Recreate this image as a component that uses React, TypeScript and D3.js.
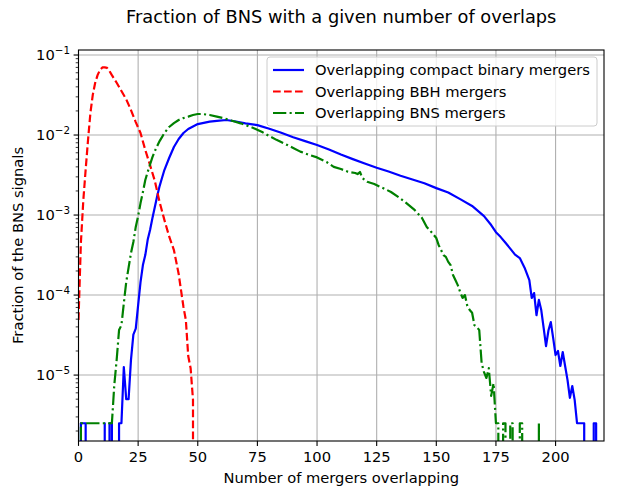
import React from "react";
import * as d3 from "d3";

// smallest non-zero fraction (one count)
const L = 2.5e-6;

// Overlapping BBH mergers (number of overlaps, fraction)
const bbhPoints: [number, number][] = [
  [0, 4.9e-5], [1, 4.5e-4], [2, 1.5e-3], [3, 3.7e-3], [4, 8.7e-3], [5, 1.9e-2],
  [6, 3.2e-2], [7, 4.5e-2], [8, 5.6e-2], [9, 6.5e-2], [10, 7.0e-2], [11, 7.0e-2],
  [12, 6.9e-2], [13, 6.3e-2], [14, 5.6e-2], [16, 4.5e-2], [18, 3.55e-2], [20, 2.8e-2],
  [22, 2.05e-2], [24, 1.45e-2], [26, 1.06e-2], [28, 6.5e-3], [30, 4.2e-3], [32, 2.66e-3],
  [34, 1.45e-3], [36, 8.7e-4], [38, 5.4e-4], [40, 3.65e-4], [42, 1.83e-4], [44, 7.1e-5],
  [45, 4.9e-5], [46, 1.73e-5], [47, 1.22e-5], [48, 4.9e-6], [49, 0], [220, 0],
];

// Overlapping BNS mergers
const bnsPoints: [number, number][] = [
  [0, 0], [1, L], [14, L], [15, 7.5e-6], [16, 1.55e-5], [17, 3.65e-5], [18, 4.2e-5],
  [19, 7.9e-5], [20, 1.45e-4], [21, 2.2e-4], [22, 3.35e-4], [23, 4.6e-4], [24, 7.1e-4],
  [25, 9.7e-4], [26, 1.41e-3], [27, 1.94e-3], [28, 2.74e-3], [29, 3.45e-3], [30, 4.3e-3],
  [31, 5.3e-3], [32, 6.3e-3], [33, 7.3e-3], [34, 8.4e-3], [35, 9.4e-3], [36, 1.06e-2],
  [38, 1.26e-2], [40, 1.41e-2], [42, 1.54e-2], [44, 1.63e-2], [46, 1.7e-2], [48, 1.78e-2],
  [50, 1.83e-2], [52, 1.83e-2], [55, 1.78e-2], [58, 1.7e-2], [61, 1.62e-2], [64, 1.52e-2],
  [68, 1.4e-2], [71, 1.3e-2], [74, 1.2e-2], [77, 1.09e-2], [80, 9.7e-3], [83, 8.7e-3],
  [86, 7.9e-3], [90, 6.9e-3], [93, 6.2e-3], [97, 5.6e-3], [100, 5.25e-3], [104, 4.6e-3],
  [107, 4.0e-3], [110, 3.76e-3], [113, 3.47e-3], [116, 3.35e-3], [117, 3.25e-3], [118, 3.45e-3],
  [119, 2.9e-3], [121, 2.61e-3], [124, 2.44e-3], [128, 2.15e-3], [131, 1.94e-3], [134, 1.69e-3],
  [137, 1.45e-3], [141, 1.15e-3], [144, 9.2e-4], [146, 7.1e-4], [148, 6.1e-4], [149, 5.6e-4],
  [150, 5.16e-4], [151, 4.2e-4], [152, 3.65e-4], [153, 3.16e-4], [154, 3.0e-4], [155, 2.6e-4],
  [156, 2.37e-4], [157, 1.78e-4], [158, 1.54e-4], [159, 1.33e-4], [160, 1.09e-4], [161, 9.2e-5],
  [162, 1.0e-4], [163, 7.3e-5], [164, 6.5e-5], [165, 6.0e-5], [166, 4.2e-5], [167, 4.0e-5],
  [168, 3.65e-5], [169, 1.41e-5], [170, 1.09e-5], [171, 9.2e-6], [172, 1.22e-5], [173, 5.5e-6],
  [174, 7.9e-6], [175, L], [176, L], [177, 0], [178, L], [179, L], [180, 0], [181, L],
  [182, L], [183, 0], [184, 0], [185, L], [186, L], [187, 0], [192, 0], [193, L], [194, 0],
  [220, 0],
];

// Overlapping compact binary mergers (all)
const allPoints: [number, number][] = [
  [0, 0], [1, L], [2, L], [3, L], [4, 0], [10, 0], [11, L], [12, 0], [13, L], [14, L],
  [15, 0], [16, 0], [17, L], [18, L], [19, 1.26e-5], [20, 5e-6], [21, 5e-6], [22, 1.55e-5],
  [23, 3.2e-5], [24, 3.8e-5], [25, 7.5e-5], [26, 1.45e-4], [27, 2.37e-4], [28, 3.16e-4],
  [29, 4.9e-4], [30, 6.5e-4], [31, 9.2e-4], [32, 1.26e-3], [33, 1.73e-3], [34, 2.3e-3],
  [35, 2.9e-3], [36, 3.65e-3], [38, 5.16e-3], [40, 7.08e-3], [42, 8.91e-3], [44, 1.06e-2],
  [46, 1.19e-2], [48, 1.28e-2], [50, 1.37e-2], [52, 1.41e-2], [55, 1.47e-2], [58, 1.5e-2],
  [62, 1.54e-2], [66, 1.475e-2], [70, 1.4e-2], [75, 1.33e-2], [80, 1.2e-2], [85, 1.07e-2],
  [90, 9.4e-3], [95, 8.4e-3], [100, 7.5e-3], [105, 6.6e-3], [110, 5.7e-3], [115, 5.0e-3],
  [120, 4.4e-3], [125, 3.9e-3], [130, 3.5e-3], [135, 3.1e-3], [140, 2.78e-3], [145, 2.5e-3],
  [150, 2.17e-3], [155, 1.91e-3], [160, 1.58e-3], [165, 1.3e-3], [170, 9.7e-4], [173, 7.5e-4],
  [175, 6.1e-4], [177, 5.3e-4], [179, 4.5e-4], [181, 3.8e-4], [183, 3.2e-4], [185, 2.9e-4],
  [187, 2.2e-4], [189, 1.54e-4], [190, 9.2e-5], [191, 1.06e-4], [192, 5.6e-5], [193, 8.7e-5],
  [194, 6.5e-5], [195, 3.9e-5], [196, 2.3e-5], [197, 3.6e-5], [198, 4.6e-5], [199, 2.9e-5],
  [200, 1.78e-5], [201, 2.0e-5], [202, 1.3e-5], [203, 1.94e-5], [204, 1.3e-5], [205, 8.7e-6],
  [206, 5.2e-6], [207, 7.3e-6], [208, 4.9e-6], [209, L], [210, L], [211, L], [212, L],
  [213, 0], [215, 0], [216, L], [217, L], [218, 0], [220, 0],
];

const xTicks = [0, 25, 50, 75, 100, 125, 150, 175, 200];
const yExponents = [-1, -2, -3, -4, -5];

const series = [
  { label: "Overlapping compact binary mergers", data: allPoints, color: "#0000ff", dash: "none" },
  { label: "Overlapping BBH mergers", data: bbhPoints, color: "#ff0000", dash: "7.7,3.3" },
  { label: "Overlapping BNS mergers", data: bnsPoints, color: "#008000", dash: "13.3,3.3,2.1,3.3" },
];

export default function App() {
  const width = 617;
  const height = 488;
  const marginLeft = 78.5;
  const marginRight = 13;
  const marginTop = 50;
  const marginBottom = 47;
  const font = "DejaVu Sans, sans-serif";
  const fs = 14.7;

  const x = d3.scaleLinear().domain([0, 220.3]).range([marginLeft, width - marginRight]);
  const y = d3.scaleLog().domain([1.5e-6, 0.1155]).range([height - marginBottom, marginTop]);

  // zeros are pushed far below the axis, as matplotlib clips them
  const line = d3
    .line<[number, number]>()
    .x((d) => x(d[0]))
    .y((d) => (d[1] > 0 ? y(d[1]) : y(1e-300)));

  const minorTicks: number[] = [];
  for (let e = -6; e <= -1; e++) {
    for (let m = 2; m <= 9; m++) {
      const v = m * Math.pow(10, e);
      if (v > y.domain()[0] && v < y.domain()[1]) minorTicks.push(v);
    }
  }

  const x0 = marginLeft;
  const x1 = width - marginRight;
  const y0 = height - marginBottom;
  const y1 = marginTop;

  return (
    <div style={{ position: "absolute", left: 0, top: 0 }}>
      <svg width={width} height={height} style={{ display: "block", background: "#fff" }}>
        <defs>
          <clipPath id="plot-area">
            <rect x={x0} y={y1} width={x1 - x0} height={y0 - y1} />
          </clipPath>
        </defs>

        {/* grid */}
        <g stroke="#b0b0b0" strokeWidth={1.1}>
          {xTicks.map((t) => (
            <line key={"gx" + t} x1={x(t)} x2={x(t)} y1={y1} y2={y0} />
          ))}
          {yExponents.map((e) => (
            <line key={"gy" + e} x1={x0} x2={x1} y1={y(Math.pow(10, e))} y2={y(Math.pow(10, e))} />
          ))}
        </g>

        {/* series */}
        <g clipPath="url(#plot-area)" fill="none">
          {series.map((s) => (
            <path
              key={s.label}
              d={line(s.data) ?? ""}
              stroke={s.color}
              strokeWidth={2.2}
              strokeDasharray={s.dash}
              strokeLinejoin="round"
            />
          ))}
        </g>

        {/* spines */}
        <rect x={x0} y={y1} width={x1 - x0} height={y0 - y1} fill="none" stroke="#000" strokeWidth={1.1} />

        {/* x axis */}
        <g fontFamily={font} fontSize={fs} textAnchor="middle">
          {xTicks.map((t) => (
            <g key={"xt" + t}>
              <line x1={x(t)} x2={x(t)} y1={y0} y2={y0 + 4.9} stroke="#000" strokeWidth={1.1} />
              <text x={x(t)} y={y0 + 21}>{t}</text>
            </g>
          ))}
          <text x={(x0 + x1) / 2} y={483}>Number of mergers overlapping</text>
        </g>

        {/* y axis */}
        <g fontFamily={font} fontSize={fs} textAnchor="end">
          {minorTicks.map((v, i) => (
            <line key={"ym" + i} x1={x0 - 2.8} x2={x0} y1={y(v)} y2={y(v)} stroke="#000" strokeWidth={0.8} />
          ))}
          {yExponents.map((e) => (
            <g key={"yt" + e}>
              <line x1={x0 - 4.9} x2={x0} y1={y(Math.pow(10, e))} y2={y(Math.pow(10, e))} stroke="#000" strokeWidth={1.1} />
              <text x={70} y={y(Math.pow(10, e)) + 5}>
                10
                <tspan fontSize={10.3} dy={-6}>{"\u2212" + Math.abs(e)}</tspan>
              </text>
            </g>
          ))}
          <text
            transform={`translate(23,${(y0 + y1) / 2}) rotate(-90)`}
            textAnchor="middle"
          >
            Fraction of the BNS signals
          </text>
        </g>

        {/* title */}
        <text x={(x0 + x1) / 2} y={23} textAnchor="middle" fontFamily={font} fontSize={17.8}>
          Fraction of BNS with a given number of overlaps
        </text>

        {/* legend */}
        <g fontFamily={font} fontSize={fs}>
          <rect x={267} y={57} width={330} height={69} rx={3} fill="#fff" fillOpacity={0.8} stroke="#cccccc" strokeWidth={1} />
          {series.map((s, i) => (
            <g key={"lg" + i} transform={`translate(0,${70 + i * 21.5})`}>
              <line x1={273} x2={304} y1={0} y2={0} stroke={s.color} strokeWidth={2.2} strokeDasharray={s.dash} />
              <text x={315} y={5}>{s.label}</text>
            </g>
          ))}
        </g>
      </svg>
    </div>
  );
}
